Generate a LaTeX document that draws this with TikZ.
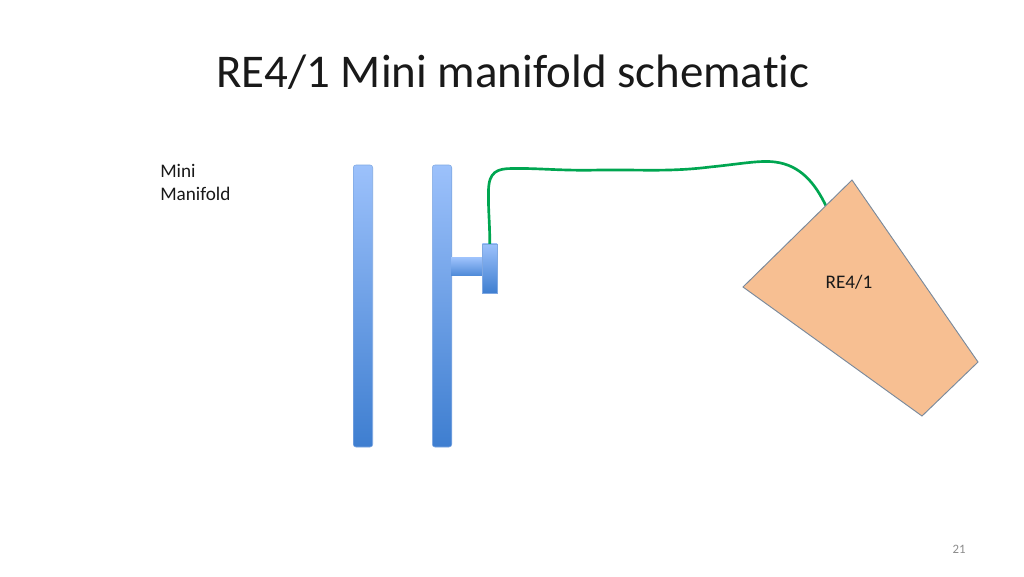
\documentclass[tikz,border=0pt]{standalone}
\usepackage{xcolor}
\usepackage{fontspec}
\setmainfont[Ligatures=NoCommon]{Carlito}
\usetikzlibrary{calc}
\definecolor{barTop}{HTML}{9CC1FB}
\definecolor{barBottom}{HTML}{3E7ED0}
\definecolor{barEdge}{HTML}{7FA8E2}
\definecolor{wireGreen}{HTML}{00A651}
\definecolor{coneFill}{HTML}{F7BF92}
\definecolor{coneEdge}{HTML}{7A8A9C}

\begin{document}
\begin{tikzpicture}[x=0.75pt,y=-0.75pt]
                \tikzstyle{every node}+=[inner sep=0pt]
                \tikzstyle{bar}=[rectangle,rounded corners=2pt,minimum width=14.6pt,top color=barTop,bottom color=barBottom,draw=barEdge,line width=0.4pt]
                \tikzstyle{label}=[font=\fontsize{14.4}{17.3}\selectfont,text=black!90,align=left]
                \useasboundingbox (0,0) rectangle (1024,576);
                \fill [white] (0,0) rectangle (1024,576);
                \node (title) [anchor=west,font=\fontsize{35.2}{42}\selectfont,text=black!90] at (216,72) {RE4/1 Mini manifold schematic};
                \node (minilabel) [label,anchor=north west] at (160,164) {Mini\\Manifold};
                \node (barleft) [bar,minimum height=211.5pt] at (363,306) {};
                \node (barright) [bar,minimum height=211.5pt] at (442,306) {};
                \node (stem) [rectangle,minimum width=24pt,minimum height=12.8pt,top color=barTop,bottom color=barBottom!80!barTop] at (467,266.5) {};
                \node (port) [rectangle,minimum width=11pt,minimum height=36.8pt,top color=barTop,bottom color=barBottom,draw=barEdge,line width=0.3pt] at (489.7,268.5) {};
                \coordinate (coneA) at (852,180);
                \coordinate (coneB) at (978,362);
                \coordinate (coneC) at (922,416);
                \coordinate (coneD) at (743,287);
                \coordinate (wireend) at ($(coneD)!0.76!(coneA)$);
                \draw [wireGreen,line width=2pt] (port.north) .. controls (490,225) and (488,210) .. (488.5,190) .. controls (489,172) and (497,168.5) .. (512,168.5) .. controls (540,168) and (560,171) .. (600,170) .. controls (640,169.5) and (670,172) .. (710,167) .. controls (740,164) and (760,160) .. (775,162) .. controls (800,165) and (815,183) .. (wireend);
                \draw [coneEdge,fill=coneFill,line width=0.7pt] (coneA) -- (coneB) -- (coneC) -- (coneD) -- cycle;
                \node (conelabel) [label] at (849,282.5) {RE4/1};
                \node (pagenum) [font=\fontsize{9.6}{11}\selectfont,text=black!45] at (959,549) {21};
\end{tikzpicture}
\end{document}
